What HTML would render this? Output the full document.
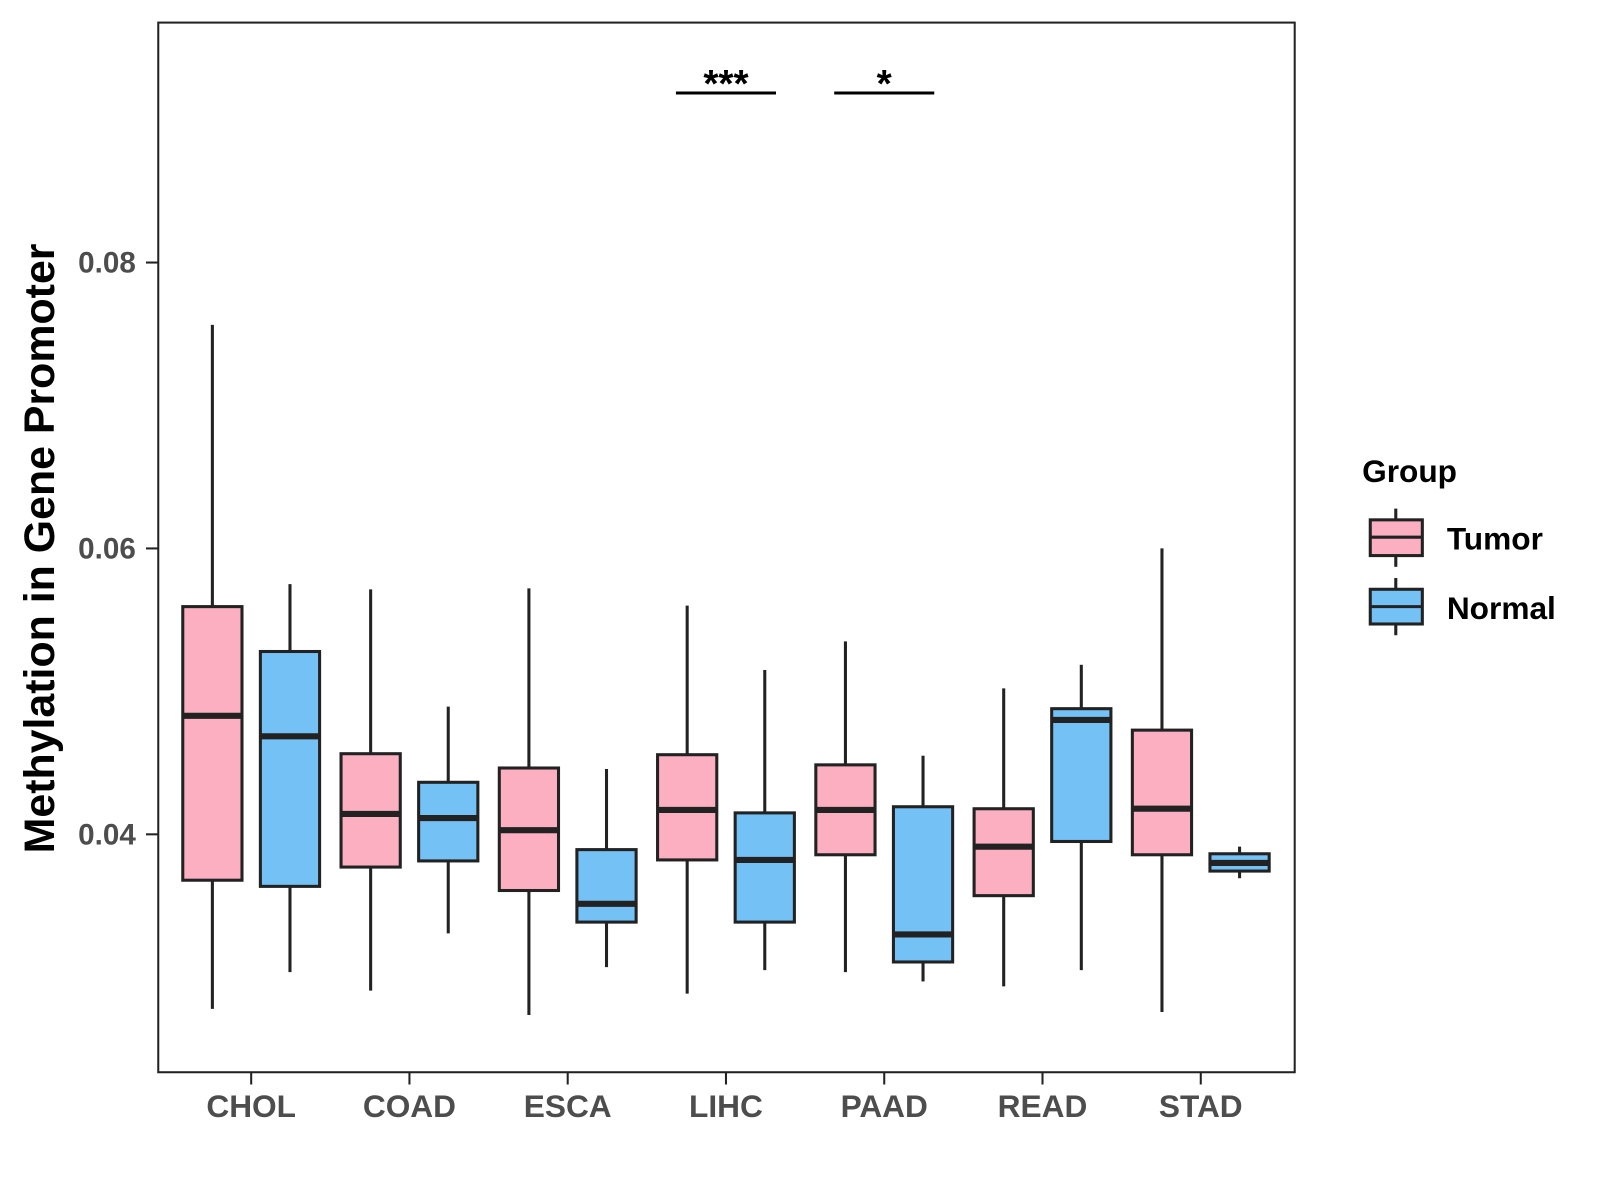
<!DOCTYPE html>
<html><head><meta charset="utf-8"><style>
html,body{margin:0;padding:0;background:#fff;}
svg{display:block;font-family:"Liberation Sans",Arial,sans-serif;}
</style></head><body>
<svg id="chart" width="1600" height="1200" viewBox="0 0 1567 1175">
<rect x="155" y="22" width="1113" height="1028" fill="#fff" stroke="#222" stroke-width="2"/>
<g id="yaxis"></g>
<g id="xaxis"></g>
<g id="boxes"></g>
<g id="sig"></g>
<text x="53" y="537" transform="rotate(-90 53 537)" text-anchor="middle" font-size="42" font-weight="bold" fill="#000">Methylation in Gene Promoter</text>
<g>
<text x="1334" y="472" font-size="31" font-weight="bold" fill="#000">Group</text>
<g>
<line x1="1367" y1="498" x2="1367" y2="555" stroke="#222" stroke-width="3"/>
<rect x="1342" y="509" width="51" height="35" fill="#fbafc0" stroke="#222" stroke-width="3"/>
<line x1="1342" y1="526" x2="1393" y2="526" stroke="#222" stroke-width="3"/>
<text x="1417" y="538" font-size="31" font-weight="bold" fill="#000">Tumor</text>
</g>
<g>
<line x1="1367" y1="566" x2="1367" y2="622" stroke="#222" stroke-width="3"/>
<rect x="1342" y="577" width="51" height="34" fill="#74c1f6" stroke="#222" stroke-width="3"/>
<line x1="1342" y1="594" x2="1393" y2="594" stroke="#222" stroke-width="3"/>
<text x="1417" y="606" font-size="31" font-weight="bold" fill="#000">Normal</text>
</g>
</g>
</svg>
<script>
const categories = ["CHOL","COAD","ESCA","LIHC","PAAD","READ","STAD"];
const groups = ["Tumor","Normal"];
// [min, q1, median, q3, max]
const tumorStats = [
 [0.02779,0.03679,0.04829,0.05593,0.07564],
 [0.02907,0.03771,0.04143,0.04564,0.05714],
 [0.02736,0.03607,0.04029,0.04464,0.05721],
 [0.02886,0.03821,0.04171,0.04557,0.05600],
 [0.03036,0.03857,0.04171,0.04486,0.05350],
 [0.02936,0.03571,0.03914,0.04179,0.05021],
 [0.02757,0.03857,0.04179,0.04729,0.06000]
];
const normalStats = [
 [0.03036,0.03636,0.04686,0.05279,0.05750],
 [0.03307,0.03814,0.04114,0.04364,0.04893],
 [0.03071,0.03386,0.03514,0.03893,0.04457],
 [0.03050,0.03386,0.03821,0.04150,0.05150],
 [0.02971,0.03107,0.03300,0.04193,0.04550],
 [0.03050,0.03950,0.04800,0.04879,0.05186],
 [0.03693,0.03743,0.03800,0.03864,0.03914]
];
const yTicks = [0.04,0.06,0.08];
const yTickLabels = ["0.04","0.06","0.08"];
const sigCategories = ["LIHC","PAAD"];
const sigLabels = ["***","*"];
const sigLevel = 0.09186;

const NS="http://www.w3.org/2000/svg";
function y(v){return 817-(v-0.04)*14000;}
function x(i){return 246+i*155;}
function mk(tag,attrs,parent){const e=document.createElementNS(NS,tag);for(const k in attrs)e.setAttribute(k,attrs[k]);parent.appendChild(e);return e;}

const ya=document.getElementById('yaxis');
yTicks.forEach((t,i)=>{
 const l=mk('line',{x1:143,x2:155,y1:y(t),y2:y(t),stroke:'#222','stroke-width':2},ya);
 
 
 const tx=mk('text',{x:133,y:y(t)+10,'text-anchor':'end','font-size':29,'font-weight':'bold',fill:'#4d4d4d'},ya);
 tx.textContent=yTickLabels[i];
 
 
});
const xa=document.getElementById('xaxis');
categories.forEach((c,i)=>{
 const l=mk('line',{x1:x(i),x2:x(i),y1:1050,y2:1062,stroke:'#222','stroke-width':2},xa);
 
 
 const tx=mk('text',{x:x(i),y:1094,'text-anchor':'middle','font-size':31,'font-weight':'bold',fill:'#4d4d4d'},xa);
 tx.textContent=c;
 
 
});
const bx=document.getElementById('boxes');
function drawBox(s,cx,fill,name){
 const g=mk('g',{},bx);
 
 
 mk('line',{x1:cx,x2:cx,y1:y(s[4]),y2:y(s[3]),stroke:'#222','stroke-width':3},g);
 mk('line',{x1:cx,x2:cx,y1:y(s[1]),y2:y(s[0]),stroke:'#222','stroke-width':3},g);
 mk('rect',{x:cx-29,y:y(s[3]),width:58,height:y(s[1])-y(s[3]),fill:fill,stroke:'#222','stroke-width':3},g);
 mk('line',{x1:cx-29,x2:cx+29,y1:y(s[2]),y2:y(s[2]),stroke:'#222','stroke-width':6},g);
}
categories.forEach((c,i)=>{
 drawBox(tumorStats[i],x(i)-38,'#fbafc0','box-tumor-'+c.toLowerCase());
 drawBox(normalStats[i],x(i)+38,'#74c1f6','box-normal-'+c.toLowerCase());
});
const sg=document.getElementById('sig');
sigCategories.forEach((c,k)=>{
 const i=categories.indexOf(c);
 const l=mk('line',{x1:x(i)-49,x2:x(i)+49,y1:y(sigLevel),y2:y(sigLevel),stroke:'#000','stroke-width':3},sg);
 
 
 const t=mk('text',{x:x(i),y:y(sigLevel)+4,'text-anchor':'middle','font-size':38,'font-weight':'bold',fill:'#000'},sg);
 t.textContent=sigLabels[k];
 
 
});
</script>
</body></html>
